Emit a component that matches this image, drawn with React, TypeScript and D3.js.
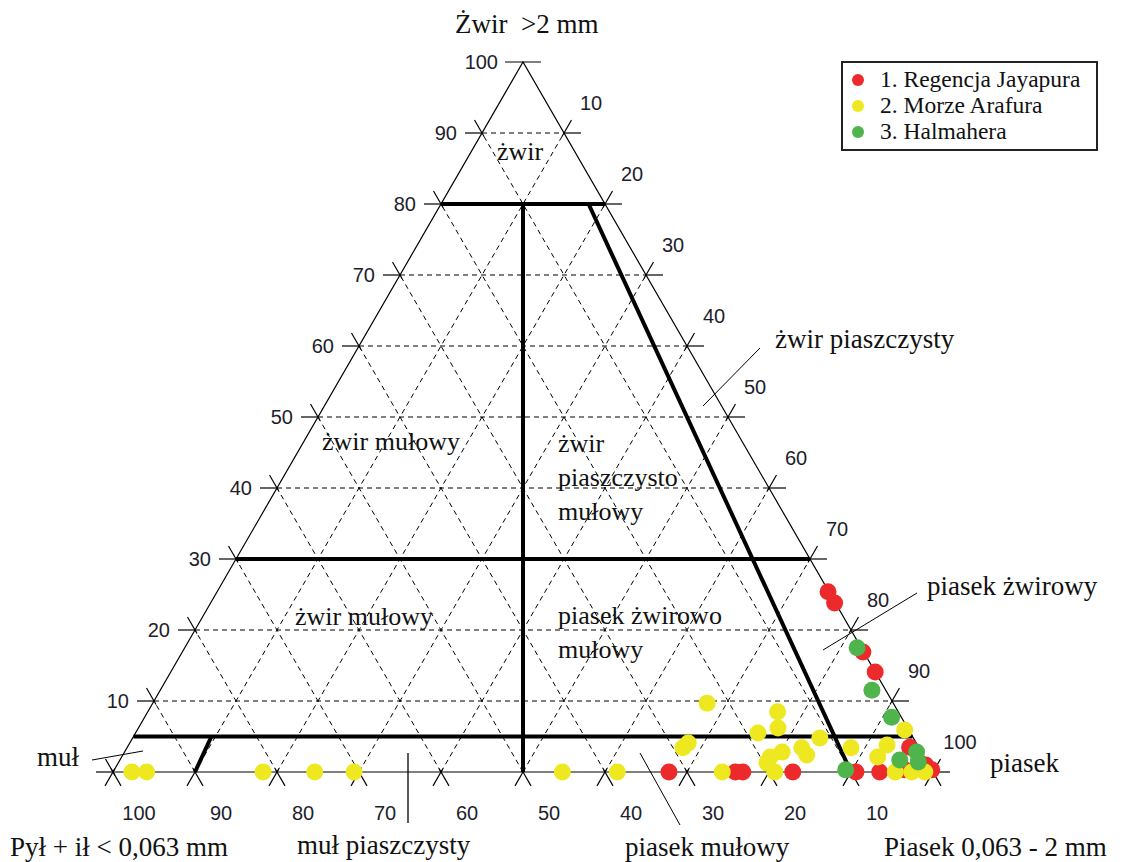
import React, { useRef, useEffect } from 'react';
import * as d3 from 'd3';

// series (gravel %, sand %) - mud is the rest
const seriesNames = ['1. Regencja Jayapura', '2. Morze Arafura', '3. Halmahera'];
const seriesColors = ['#ec2a2c', '#ede81f', '#4eb44b'];

const jayapuraGravel = [0, 0, 0, 0, 0, 0, 0.3, 0.3, 1, 3.5, 14.1, 16.9, 23.8, 25.4];
const jayapuraSand = [67.8, 75.9, 76.8, 82.9, 90.6, 93.5, 96.4, 99.7, 98.6, 95.4, 85.9, 83.0, 76.1, 74.5];

const arafuraGravel = [0, 0, 0, 0, 0, 0, 0, 0, 0, 0, 0, 0, 9.7, 8.5, 6.2, 5.5, 4.1, 3.4, 2.8, 2.1, 1.3, 3.4, 2.4, 4.8, 3.4, 3.8, 2.1, 5.9];
const arafuraSand = [2.3, 4.1, 18.3, 24.6, 29.4, 54.8, 61.5, 74.3, 80.7, 95.4, 97.4, 99.0, 67.6, 76.8, 78.0, 75.9, 68.1, 67.8, 80.2, 79.1, 79.1, 82.3, 83.4, 83.8, 88.3, 92.5, 92.2, 93.6];

const halmaheraGravel = [0.3, 1.7, 2.8, 1.4, 7.7, 11.5, 17.5];
const halmaheraSand = [89.2, 95.1, 96.6, 97.5, 91.1, 86.8, 82.0];

const gridSteps = [10, 20, 30, 40, 50, 60, 70, 80, 90];
const gravelTickLabels = ['10', '20', '30', '40', '50', '60', '70', '80', '90', '100'];
// right side, from the bottom corner upwards
const sandTickLabels = ['100', '90', '80', '70', '60', '50', '40', '30', '20', '10'];
// base, from the left corner rightwards
const mudTickLabels = ['100', '90', '80', '70', '60', '50', '40', '30', '20', '10'];

// Folk class boundaries: gravel levels
const gravelBounds = [80, 30, 5];

function TernaryChart() {
  const svgRef = useRef<SVGSVGElement>(null);

  useEffect(() => {
    const width = 1122;
    const height = 862;
    const y = d3.scaleLinear().domain([0, 100]).range([772, 62]);
    const x = d3.scaleLinear().domain([0, 100]).range([113, 933]);
    const pt = (g: number, s: number): [number, number] => [x(s + g / 2), y(g)];

    const svg = d3.select(svgRef.current).attr('width', width).attr('height', height);
    svg.selectAll('*').remove();

    const sans = "'Liberation Sans', Arial, sans-serif";
    const serif = "'Liberation Serif', 'Times New Roman', serif";

    const line = (a: [number, number], b: [number, number], w = 1) =>
      svg.append('line')
        .attr('x1', a[0]).attr('y1', a[1]).attr('x2', b[0]).attr('y2', b[1])
        .attr('stroke', '#000').attr('stroke-width', w);

    // dashed grid
    const grid = svg.append('g');
    gridSteps.forEach(k => {
      const segs: [[number, number], [number, number]][] = [
        [pt(k, 0), pt(k, 100 - k)],
        [pt(0, k), pt(100 - k, k)],
        [pt(0, 100 - k), pt(100 - k, 0)],
      ];
      segs.forEach(([a, b]) => {
        grid.append('line')
          .attr('x1', a[0]).attr('y1', a[1]).attr('x2', b[0]).attr('y2', b[1])
          .attr('stroke', '#000').attr('stroke-width', 1)
          .attr('stroke-dasharray', '5,4');
      });
    });

    // outline
    svg.append('path')
      .attr('d', d3.line()([pt(0, 0), pt(100, 0), pt(0, 100), pt(0, 0)]))
      .attr('fill', 'none').attr('stroke', '#000').attr('stroke-width', 1.2);

    // ticks
    const dL = [0.5, 0.866];
    const dR = [0.5, -0.866];
    d3.range(0, 101, 10).forEach(g => {
      const p = pt(g, 0);
      if (g === 100) {
        line([p[0] - 18, p[1]], [p[0] + 18, p[1]], 1.2);
        return;
      }
      line([p[0] - 17, p[1]], p, 1.2);
      line([p[0] - 15 * dL[0], p[1] - 15 * dL[1]], [p[0] + 4 * dL[0], p[1] + 4 * dL[1]], 1.2);
    });
    d3.range(0, 100, 10).forEach(g => {
      const p = pt(g, 100 - g);
      line(p, [p[0] + 17, p[1]], 1.2);
      line([p[0] + 15 * dR[0], p[1] + 15 * dR[1]], [p[0] - 4 * dR[0], p[1] - 4 * dR[1]], 1.2);
    });
    d3.range(0, 101, 10).forEach(s => {
      const p = pt(0, s);
      line([p[0] - 4 * 0.5, p[1] - 4 * 0.866], [p[0] + 16 * 0.5, p[1] + 16 * 0.866], 1.2);
      line([p[0] + 4 * 0.5, p[1] - 4 * 0.866], [p[0] - 16 * 0.5, p[1] + 16 * 0.866], 1.2);
    });

    // thick boundaries
    gravelBounds.forEach(g => line(pt(g, 0), pt(g, 100 - g), 4));
    line(pt(80, 10), pt(0, 50), 4);
    line(pt(80, 18), pt(0, 90), 4);
    line(pt(5, 9.5), pt(0, 10), 4);

    // tick labels
    const num = (tx: number, ty: number, t: string, anchor: string) =>
      svg.append('text').attr('x', tx).attr('y', ty).attr('dy', '0.35em')
        .attr('text-anchor', anchor)
        .attr('font-family', sans).attr('font-size', 20).attr('fill', '#1d1d2b')
        .text(t);
    gravelTickLabels.forEach((t, i) => {
      const p = pt((i + 1) * 10, 0);
      num(p[0] - 25, p[1], t, 'end');
    });
    sandTickLabels.forEach((t, i) => {
      const g = i * 10;
      const p = pt(g, 100 - g);
      num(p[0] + 27, p[1] - 30, t, 'middle');
    });
    mudTickLabels.forEach((t, i) => {
      const p = pt(0, i * 10);
      num(p[0] + 26, p[1] + 41, t, 'middle');
    });

    // text annotations
    const txt = (tx: number, ty: number, t: string, size = 27) =>
      svg.append('text').attr('x', tx).attr('y', ty)
        .attr('font-family', serif).attr('font-size', size)
        .attr('xml:space', 'preserve').attr('fill', '#111')
        .text(t);

    txt(455, 33, 'Żwir  >2 mm');
    txt(497, 160, 'żwir', 26);
    txt(322, 450, 'żwir mułowy', 26);
    txt(558, 452, 'żwir', 26);
    txt(558, 486, 'piaszczysto', 26);
    txt(558, 520, 'mułowy', 26);
    txt(295, 625, 'żwir mułowy', 26);
    txt(558, 624, 'piasek żwirowo', 26);
    txt(558, 658, 'mułowy', 26);
    txt(775, 348, 'żwir piaszczysty');
    txt(927, 595, 'piasek żwirowy');
    txt(990, 772, 'piasek');
    txt(37, 766, 'muł');
    txt(10, 856, 'Pył + ił < 0,063 mm');
    txt(297, 854, 'muł piaszczysty');
    txt(625, 856, 'piasek mułowy');
    txt(884, 856, 'Piasek 0,063 - 2 mm');

    // leader lines
    line([92, 760], [143, 751]);
    line([408, 753], [408, 823], 1.3);
    line([640, 753], [680, 825]);
    line([760, 348], [703, 406]);
    line([917, 593], [823, 650]);

    // points
    const series = [
      { g: jayapuraGravel, s: jayapuraSand },
      { g: arafuraGravel, s: arafuraSand },
      { g: halmaheraGravel, s: halmaheraSand },
    ];
    series.forEach((d, si) => {
      svg.append('g').selectAll('circle')
        .data(d.g.map((g, i) => pt(g, d.s[i])))
        .join('circle')
        .attr('cx', p => p[0]).attr('cy', p => p[1]).attr('r', 8.5)
        .attr('fill', seriesColors[si]);
    });

    // legend
    const lg = svg.append('g');
    lg.append('rect').attr('x', 842).attr('y', 62).attr('width', 255).attr('height', 88)
      .attr('fill', '#fff').attr('stroke', '#222').attr('stroke-width', 2);
    seriesNames.forEach((n, i) => {
      const ly = [80, 106, 132][i];
      lg.append('circle').attr('cx', 858).attr('cy', ly).attr('r', 6).attr('fill', seriesColors[i]);
      lg.append('text').attr('x', 880).attr('y', ly + 7)
        .attr('font-family', serif).attr('font-size', 23.5).attr('fill', '#111')
        .text(n);
    });
  }, []);

  return <svg ref={svgRef} style={{ position: 'absolute', left: 0, top: 0, background: '#fff' }} />;
}

export default function App() {
  return <TernaryChart />;
}
